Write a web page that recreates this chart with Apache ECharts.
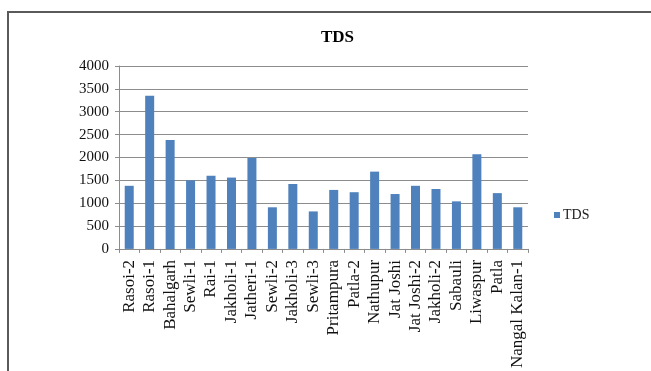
<!DOCTYPE html>
<html>
<head>
<meta charset="utf-8">
<script src="https://cdn.jsdelivr.net/npm/echarts@6/dist/echarts.min.js"></script>
<style>
  html, body { margin: 0; padding: 0; background: #fff; }
  #chart { width: 651px; height: 371px; }
</style>
</head>
<body>
<div id="chart"></div>
<script>
// Sampling sites
const sites = ['Rasoi-2', 'Rasoi-1', 'Bahalgarh', 'Sewli-1', 'Rai-1', 'Jakholi-1', 'Jatheri-1',
  'Sewli-2', 'Jakholi-3', 'Sewli-3', 'Pritampura', 'Patla-2', 'Nathupur', 'Jat Joshi',
  'Jat Joshi-2', 'Jakholi-2', 'Sabauli', 'Liwaspur', 'Patla', 'Nangal Kalan-1'];

// Total dissolved solids per site
const tdsValues = [1380, 3350, 2380, 1500, 1600, 1560, 1990, 910, 1420, 820,
  1290, 1240, 1690, 1200, 1380, 1310, 1040, 2070, 1220, 910];

// Value axis ticks
const yTicks = [0, 500, 1000, 1500, 2000, 2500, 3000, 3500, 4000];

const serif = '"Liberation Serif", "Times New Roman", serif';
const gridGray = '#8c8c8c';

const chart = echarts.init(document.getElementById('chart'));
chart.setOption({
  animation: false,
  backgroundColor: '#fff',
  title: {
    text: 'TDS',
    left: 316,
    top: 24,
    textStyle: { fontFamily: serif, fontWeight: 'bold', fontSize: 17, color: '#000' }
  },
  legend: {
    data: ['TDS'],
    orient: 'vertical',
    left: 549,
    top: 203,
    icon: 'rect',
    itemWidth: 6,
    itemHeight: 6,
    itemGap: 4,
    textStyle: { fontFamily: serif, fontSize: 14, color: '#222', padding: [0, 0, 0, -2] }
  },
  grid: { left: 119, right: 123, top: 66, bottom: 122, containLabel: false },
  xAxis: {
    type: 'category',
    data: sites,
    axisLine: { show: true, lineStyle: { color: gridGray, width: 1 } },
    axisTick: { show: true, alignWithLabel: false, length: 4, lineStyle: { color: gridGray } },
    axisLabel: {
      interval: 0,
      rotate: 90,
      margin: 11,
      fontFamily: serif,
      fontSize: 17,
      color: '#111'
    }
  },
  yAxis: {
    type: 'value',
    min: yTicks[0],
    max: yTicks[yTicks.length - 1],
    interval: yTicks[1] - yTicks[0],
    axisLine: { show: true, lineStyle: { color: gridGray, width: 1 } },
    axisTick: { show: true, length: 4, lineStyle: { color: gridGray } },
    axisLabel: {
      margin: 10,
      fontFamily: serif,
      fontSize: 15,
      color: '#111',
      formatter: (v) => String(v)
    },
    splitLine: { show: true, lineStyle: { color: gridGray, width: 1 } }
  },
  series: [{
    name: 'TDS',
    type: 'bar',
    data: tdsValues,
    barWidth: 9,
    itemStyle: { color: '#4F81BD' }
  }],
  graphic: [
    {
      type: 'polyline',
      silent: true,
      shape: { points: [[8, 371], [8, 12], [651, 12]] },
      style: { stroke: '#5a5a5a', lineWidth: 2, fill: null }
    }
  ]
});
</script>
</body>
</html>
